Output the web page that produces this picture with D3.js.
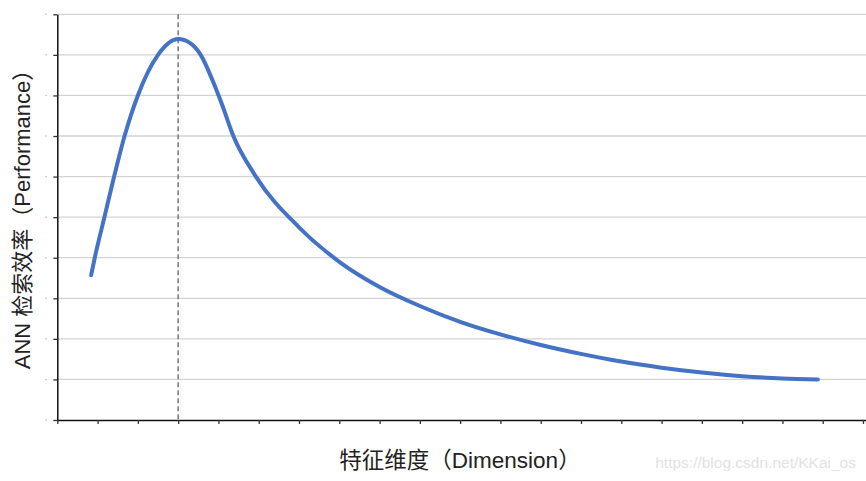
<!DOCTYPE html>
<html>
<head>
<meta charset="utf-8">
<script src="https://cdn.jsdelivr.net/npm/d3@7"></script>
<style>
  html, body { margin: 0; padding: 0; background: #fff; }
  svg { display: block; }
</style>
</head>
<body>
<div id="chart"></div>
<script>
// Curve (x = dimension, y = performance)
const dimension = [0.84, 0.93, 1.17, 1.41, 1.67, 2.00, 2.50, 3.00, 3.30, 3.56, 3.85,
    4.08, 4.37, 4.93, 6, 7, 8, 9, 10, 11, 12, 13, 14, 15, 16, 17, 18, 18.88];
const performance = [3.57, 4.00, 5.00, 6.00, 7.00, 8.00, 9.00, 9.39, 9.29, 9.00, 8.38,
    7.80, 7.00, 6.00, 4.75, 3.90, 3.28, 2.81, 2.42, 2.11, 1.85, 1.63, 1.44, 1.29, 1.17, 1.08, 1.025, 1.00];
const peakDimension = 3;
const xTicks = d3.range(0, 21);
const yTicks = d3.range(0, 11);

const xTitle = "特征维度（Dimension）";
const yTitle = "ANN 检索效率（Performance）";
const watermark = "https://blog.csdn.net/KKai_os";

function drawChart() {
    const width = 866, height = 481;
    const left = 57.3, right = 863, top = 14.3, bottom = 420;
    const font = "'Liberation Sans', 'Noto Sans CJK SC', sans-serif";

    const svg = d3.select("#chart")
        .append("svg")
        .attr("width", width)
        .attr("height", height);

    const x = d3.scaleLinear().domain([0, 20]).range([left, right]);
    const y = d3.scaleLinear().domain([0, 10]).range([bottom, top]);

    // horizontal gridlines
    svg.append("g")
        .selectAll("line")
        .data(yTicks.filter(d => d > 0))
        .enter()
        .append("line")
        .attr("x1", left)
        .attr("x2", width)
        .attr("y1", d => y(d))
        .attr("y2", d => y(d))
        .attr("stroke", "#d3d3d3")
        .attr("stroke-width", 1.3);

    // axes
    const xAxis = svg.append("g")
        .attr("transform", `translate(0,${bottom})`)
        .call(d3.axisBottom(x).tickValues(xTicks).tickSize(4).tickFormat("").tickSizeOuter(0));
    xAxis.select(".domain").attr("d", `M${left},0.5H${width}`);

    svg.append("g")
        .attr("transform", `translate(${left},0)`)
        .call(d3.axisLeft(y).tickValues(yTicks).tickSize(4).tickFormat("").tickSizeOuter(0));

    svg.selectAll(".domain").attr("stroke", "#111").attr("stroke-width", 1.5);
    svg.selectAll(".tick line").attr("stroke", "#333").attr("stroke-width", 1.3);

    // faint tick-label dots on the left
    svg.append("g")
        .selectAll("circle")
        .data(yTicks)
        .enter()
        .append("circle")
        .attr("cx", 46)
        .attr("cy", d => y(d))
        .attr("r", 0.8)
        .attr("fill", "#bbb");

    // dashed marker at the peak
    svg.append("line")
        .attr("x1", x(peakDimension))
        .attr("x2", x(peakDimension))
        .attr("y1", top)
        .attr("y2", bottom)
        .attr("stroke", "#777")
        .attr("stroke-width", 1.5)
        .attr("stroke-dasharray", "5,3");

    // performance curve
    const points = dimension.map((d, i) => [d, performance[i]]);
    svg.append("path")
        .datum(points)
        .attr("fill", "none")
        .attr("stroke", "#4472c4")
        .attr("stroke-width", 4)
        .attr("stroke-linecap", "round")
        .attr("stroke-linejoin", "round")
        .attr("d", d3.line()
            .x(d => x(d[0]))
            .y(d => y(d[1]))
            .curve(d3.curveMonotoneX));

    // axis titles
    svg.append("text")
        .attr("x", 460)
        .attr("y", 468)
        .attr("text-anchor", "middle")
        .style("font-family", font)
        .style("font-size", "22.5px")
        .attr("fill", "#222")
        .text(xTitle);

    svg.append("text")
        .attr("transform", `translate(30,${214}) rotate(-90)`)
        .attr("text-anchor", "middle")
        .style("font-family", font)
        .style("font-size", "22px")
        .attr("fill", "#222")
        .text(yTitle);

    // watermark
    svg.append("text")
        .attr("x", 856)
        .attr("y", 468)
        .attr("text-anchor", "end")
        .style("font-family", font)
        .style("font-size", "15.5px")
        .attr("fill", "#e2e2e2")
        .text(watermark);
}

drawChart();
</script>
</body>
</html>
